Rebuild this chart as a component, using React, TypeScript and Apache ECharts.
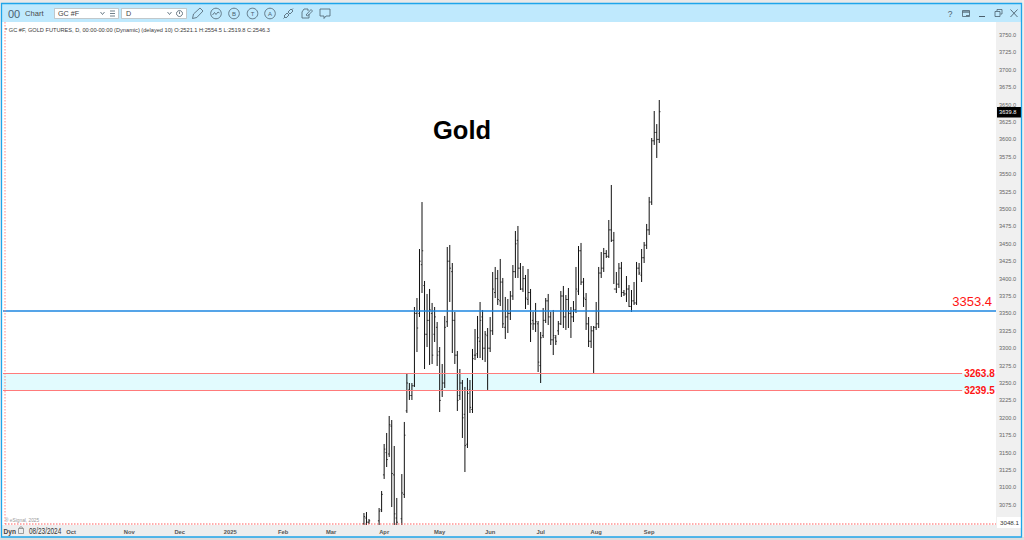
import React, { useEffect, useRef } from "react";
import * as echarts from "echarts";

// Trading-day index (days since 08/23/2024) of the first bar listed below
const firstBarIndex = 143;
const lastIndex = 393.4;

const monthLabels = ["Oct", "Nov", "Dec", "2025", "Feb", "Mar", "Apr", "May", "Jun", "Jul", "Aug", "Sep"];
const monthIndex = [27, 50, 70, 90, 111, 130, 151, 173, 193, 213, 235, 256];

const highs = [3063.2, 3064.6, 3054.6, null, null, null, 3070.4, 3094.8, 3162.4, 3178.2, 3202.6, 3196.8, 3159.5, 3084.8, null, 3119.2, 3194, 3263, 3250, 3250, 3359.2, 3372.1, 3442.5, 3510, 3396.6, 3377.9, 3385.1, 3365, 3359.2, 3337.6, 3301.7, 3277.3, 3346.3, 3445.4, 3448.3, 3422.4, 3352, 3296, 3270.1, 3254.3, 3244.3, 3257.2, 3254.3, 3298.9, 3327.6, 3346.3, 3366.4, 3354.9, 3324.7, 3329, 3344.8, 3409.5, 3416.7, 3412.4, 3428.2, 3400.9, 3373.6, 3370.7, 3382.2, 3419.5, 3468.4, 3475.6, 3422.4, 3418.1, 3405.2, 3413.8, 3385.1, 3352, 3365, 3339.1, 3323.3, 3357.8, 3372.1, 3377.9, 3352, 3354.9, 3319, 3339.1, 3382.2, 3389.4, 3376.4, 3386.5, 3359.2, 3367.8, 3416.7, 3446.8, 3451.2, 3400.9, 3379.3, 3344.8, 3331.9, 3331.9, 3366.4, 3416.7, 3438.2, 3444, 3441, 3484.2, 3534.5, 3467, 3409.5, 3422.4, 3423.9, 3383.6, 3403.7, 3390.8, 3383.6, 3395.1, 3423.9, 3422.4, 3442.5, 3452.6, 3478.5, 3517.3, 3602, 3640.8, 3622, 3656.6];
const lows = [3046, 3046, 3047.4, null, null, null, 3046, 3064.6, 3112.1, 3129.3, 3143.7, 3071.8, 3046, 3046, null, 3046, 3084.8, 3207, 3225.6, 3225.6, 3244.3, 3294.5, 3344.8, 3379.3, 3270.1, 3301.7, 3275.9, 3277.3, 3308.9, 3274.4, 3208.3, 3229.9, 3242.8, 3330.5, 3366.4, 3293.1, 3277.3, 3209.8, 3225.6, 3171, 3122.1, 3156.6, 3206.9, 3206.9, 3283, 3285.9, 3285.9, 3283, 3280.2, 3240, 3294.5, 3319, 3372.1, 3362.1, 3360.6, 3329, 3313.2, 3321.8, 3340.5, 3369.3, 3400.9, 3400.9, 3383.6, 3380.8, 3356.3, 3362.1, 3308.9, 3326.2, 3323.3, 3265.8, 3250, 3314.7, 3336.2, 3333.3, 3304.6, 3290.2, 3304.6, 3319, 3333.3, 3329, 3326.2, 3329, 3314.7, 3337.6, 3350.6, 3376.4, 3390.8, 3359.2, 3326.2, 3301.7, 3300.3, 3264.4, 3326.2, 3329, 3400.9, 3409.5, 3429.6, 3429.6, 3452.6, 3392.2, 3379.3, 3386.5, 3373.6, 3375, 3366.4, 3359.2, 3352, 3362.1, 3362.1, 3405.2, 3395.1, 3422.4, 3442.5, 3462.6, 3505.8, 3592, 3573.3, 3594.8];
const opens = [3048, 3056, 3050, null, null, null, 3052, 3068, 3118, 3150, 3148, 3188, 3118, 3056, null, 3055, 3090, 3210, 3240, 3232, 3246, 3350, 3350, 3420, 3390, 3320, 3340, 3350, 3320, 3330, 3295, 3240, 3250, 3338, 3425, 3410, 3340, 3290, 3232, 3250, 3205, 3162, 3240, 3212, 3290, 3292, 3310, 3345, 3300, 3318, 3300, 3325, 3380, 3400, 3368, 3395, 3330, 3345, 3350, 3375, 3410, 3455, 3415, 3385, 3400, 3370, 3380, 3340, 3335, 3335, 3275, 3318, 3340, 3368, 3345, 3312, 3315, 3325, 3335, 3375, 3345, 3370, 3350, 3345, 3355, 3382, 3440, 3395, 3370, 3335, 3310, 3325, 3330, 3335, 3408, 3415, 3436, 3432, 3470, 3455, 3385, 3392, 3415, 3380, 3378, 3385, 3360, 3368, 3365, 3415, 3405, 3430, 3448, 3470, 3510, 3598, 3610, 3600];
const closes = [3058, 3050, 3052, null, null, null, 3066, 3090, 3155, 3140, 3190, 3120, 3062, 3050, null, 3092, 3175, 3250, 3232, 3246, 3350, 3329, 3425, 3440, 3320, 3340, 3355, 3290, 3345, 3290, 3225, 3250, 3330, 3425, 3415, 3340, 3290, 3225, 3250, 3200, 3160, 3235, 3215, 3285, 3290, 3315, 3340, 3300, 3320, 3300, 3325, 3385, 3400, 3370, 3395, 3335, 3345, 3350, 3375, 3410, 3450, 3415, 3385, 3400, 3372, 3380, 3335, 3335, 3338, 3280, 3315, 3340, 3368, 3345, 3312, 3318, 3310, 3335, 3375, 3345, 3370, 3350, 3345, 3355, 3385, 3440, 3395, 3372, 3335, 3310, 3325, 3330, 3335, 3408, 3415, 3436, 3432, 3470, 3455, 3385, 3392, 3415, 3380, 3378, 3385, 3360, 3368, 3365, 3415, 3408, 3430, 3448, 3470, 3510, 3598, 3610, 3600, 3639.8];

const resistance = 3353.4;
const zoneTop = 3263.8;
const zoneBottom = 3239.5;
const lastPrice = "3639.8";
const axisLow = "3048.1";
const infoLine = "* GC #F, GOLD FUTURES, D, 00:00-00:00 (Dynamic) (delayed 10) O:2521.1 H:2554.5 L:2519.8 C:2546.3";
const FONT = "'Liberation Sans', Arial, sans-serif";

const barData = highs
  .map((h, i) => [firstBarIndex + i, h, lows[i], opens[i], closes[i]])
  .filter((d) => d[1] !== null);

const ICON = "#4b5f6d";
const t = (text: string, x: number, y: number, fontSize: number, fill: string, extra: any = {}, scaleX = 1) => ({
  type: "text", z: 80, x, y, scaleX, silent: true,
  style: { text, fontSize, fill, fontFamily: FONT, textVerticalAlign: "middle", ...extra },
});
const ln = (x1: number, y1: number, x2: number, y2: number, stroke = ICON, lineWidth = 0.8) => ({
  type: "line", z: 80, silent: true, shape: { x1, y1, x2, y2 }, style: { stroke, lineWidth },
});
const pl = (points: number[][], stroke = ICON, lineWidth = 0.8) => ({
  type: "polyline", z: 80, silent: true, shape: { points },
  style: { stroke, lineWidth },
});
const circ = (cx: number, cy: number, r: number, stroke = ICON) => ({
  type: "circle", z: 80, silent: true, shape: { cx, cy, r }, style: { stroke, lineWidth: 0.8, fill: "none" },
});
const box = (x: number, y: number, width: number, height: number, fill: string, z: number, stroke?: string, lineWidth = 1) => ({
  type: "rect", z, silent: true, shape: { x, y, width, height },
  style: { fill, stroke: stroke || "none", lineWidth },
});

const chrome: any[] = [
  // outside and panels
  box(996, 22, 25, 503, "#f0f0f0", -1),
  box(0, 525, 1022, 12, "#eeeeee", 3),
  box(0, 0, 1024, 4, "#e9e9e9", 50),
  box(0, 4, 2, 536, "#eeeeee", 50),
  box(1022, 0, 2, 540, "#eeeeee", 50),
  box(0, 537, 1024, 3, "#dedede", 50),
  box(2, 4, 1020, 18, "#bfe9fd", 50),
  box(1.5, 3.5, 1020, 533.5, "none", 60, "#1ea5ea", 1.3),
  // dashed frame of the plot
  { type: "line", z: 6, silent: true, shape: { x1: 5, y1: 22, x2: 5, y2: 524 }, style: { stroke: "#ff7a7a", lineWidth: 0.9, lineDash: [1.5, 1.5] } },
  { type: "line", z: 6, silent: true, shape: { x1: 5, y1: 524, x2: 996, y2: 524 }, style: { stroke: "#ff5a5a", lineWidth: 1, lineDash: [1.5, 1.5] } },
  // toolbar, left
  t("00", 8, 13.5, 11, "#4b6272"),
  t("Chart", 25, 13.5, 7.6, "#4a4a4a"),
  box(54.5, 8.5, 64, 10, "#ffffff", 70, "#b5b5b5", 0.7),
  box(121.5, 8.5, 65, 10, "#ffffff", 70, "#b5b5b5", 0.7),
  t("GC #F", 58, 13.7, 7.2, "#444"),
  t("D", 126, 13.7, 7.2, "#444"),
  pl([[100.5, 12], [102.5, 14.5], [104.5, 12]]),
  ln(110, 11, 115, 11), ln(110, 13.5, 115, 13.5), ln(110, 16, 115, 16),
  pl([[167.5, 12], [169.5, 14.5], [171.5, 12]]),
  circ(179.5, 13.5, 3), ln(179.5, 11.5, 179.5, 14),
  // pencil
  pl([[192.5, 18.5], [193.5, 14], [200, 8], [203, 11], [196.8, 17.5], [192.5, 18.5]]),
  // wave
  circ(216, 13.5, 5.3), pl([[212.5, 15], [214.5, 12.5], [216, 14.5], [218, 12], [219.5, 13]]),
  circ(234, 13.5, 5.3), t("B", 234, 13.8, 6, ICON, { textAlign: "center" }),
  circ(252.5, 13.5, 5.3), t("T", 252.5, 13.8, 6, ICON, { textAlign: "center" }),
  circ(270, 13.5, 5.3), t("A", 270, 13.8, 6, ICON, { textAlign: "center" }),
  // link
  pl([[284, 16], [287, 13], [289, 15], [286, 18], [284, 16]]),
  pl([[288, 12], [291, 9], [293, 11], [290, 14], [288, 12]]),
  ln(283.5, 18.5, 285, 17), ln(291.5, 10, 293, 8.5),
  // note
  pl([[302, 12], [304, 9], [308, 9], [308, 11]]),
  pl([[302, 12], [302, 18], [309, 18], [309, 14]]),
  pl([[306, 15], [311, 9.5], [312.5, 11], [307.5, 16], [306, 15]]),
  // speech
  pl([[320, 9], [330, 9], [330, 16], [326, 16], [324, 18.5], [324, 16], [320, 16], [320, 9]]),
  // toolbar, right
  t("?", 950, 13.5, 8.5, "#4b5f6d", { textAlign: "center" }),
  box(962.5, 10.5, 7, 6, "none", 80, ICON, 0.8),
  ln(962.5, 12, 969.5, 12, ICON, 1.2), ln(966, 15.5, 969, 15.5),
  ln(979, 16.5, 985, 16.5, ICON, 1),
  box(995, 11.5, 5, 5, "none", 80, ICON, 0.8),
  pl([[997, 11], [997, 9.5], [1002, 9.5], [1002, 14], [1000.5, 14]]),
  ln(1010.5, 9.5, 1017.5, 17, ICON, 0.9), ln(1017.5, 9.5, 1010.5, 17, ICON, 0.9),
  // info lines
  t(infoLine, 5, 29.8, 5.65, "#3a3a3a"),
  t("® eSignal, 2025", 5, 520.5, 4.8, "#999999"),
  // Title
  { type: "text", z: 30, silent: true, x: 462, y: 130, style: { text: "Gold", fontSize: 25.5, fontWeight: "bold", fill: "#000", fontFamily: FONT, textAlign: "center", textVerticalAlign: "middle" } },
  // bottom bar
  t("Dyn", 3.5, 531, 6.6, "#444", { fontWeight: "bold" }),
  box(18.5, 528.5, 5, 5, "none", 80, "#777", 0.7),
  { type: "arc", z: 80, silent: true, shape: { cx: 21, cy: 528.5, r: 1.7, startAngle: Math.PI, endAngle: 0 }, style: { stroke: "#777", lineWidth: 0.7, fill: "none" } },
  t("08/23/2024", 29, 531.3, 8.5, "#333", {}, 0.76),
  // price tags
  box(997, 107, 24, 10.5, "#000000", 40),
  { ...t(lastPrice, 999, 112.4, 5.7, "#ffffff"), z: 41 },
  box(997, 517, 24, 11, "#ffffff", 40),
  { ...t(axisLow, 1000, 522.5, 6.2, "#333"), z: 41 },
];

const renderBar = (_: any, api: any) => {
  const x = api.value(0);
  const [cx, yHigh] = api.coord([x, api.value(1)]);
  const [, yLow] = api.coord([x, api.value(2)]);
  const [, yOpen] = api.coord([x, api.value(3)]);
  const [, yClose] = api.coord([x, api.value(4)]);
  const style = { stroke: "#111", lineWidth: 1, fill: "none" };
  const thin = { stroke: "#111", lineWidth: 0.8, fill: "none" };
  return {
    type: "group",
    children: [
      { type: "line", shape: { x1: cx, y1: yHigh, x2: cx, y2: yLow }, style },
      { type: "line", shape: { x1: cx - 1.2, y1: yOpen, x2: cx, y2: yOpen }, style: thin },
      { type: "line", shape: { x1: cx, y1: yClose, x2: cx + 1.2, y2: yClose }, style: thin },
    ],
  };
};

const sideLabel = { show: true, position: "end", distance: 2, color: "#ff1414", fontFamily: FONT, fontSize: 10, fontWeight: "bold" };
const zoneEndIndex = 380;
const zoneLine = { color: "#ff7b7b", width: 1, type: "solid" };

const option: any = {
  animation: false,
  backgroundColor: "#ffffff",
  grid: { left: 3, width: 993, top: 17.6, height: 522, containLabel: false },
  xAxis: {
    type: "value", min: 0, max: lastIndex, z: 5,
    axisLine: { show: false }, axisTick: { show: false }, splitLine: { show: false },
    axisLabel: {
      inside: true, margin: 5, fontSize: 5.8, color: "#555", fontWeight: "bold", fontFamily: FONT,
      customValues: monthIndex,
      formatter: (v: number) => monthLabels[monthIndex.indexOf(v)] ?? "",
    },
  },
  yAxis: {
    type: "value", position: "right", min: 3025, max: 3775, interval: 25,
    axisLine: { show: false }, axisTick: { show: false }, splitLine: { show: false },
    axisLabel: {
      margin: 3, fontSize: 5.6, color: "#666", fontFamily: FONT,
      formatter: (v: number) => (v < 3075 || v > 3750 ? "" : v.toFixed(1)),
    },
  },
  graphic: { elements: chrome },
  series: [
    {
      type: "custom", data: barData, renderItem: renderBar, clip: true, silent: true,
      encode: { x: 0, y: [1, 2, 3, 4] }, z: 2,
      markArea: {
        silent: true, z: 1, itemStyle: { color: "#e2fbfe" },
        data: [[{ yAxis: zoneTop }, { yAxis: zoneBottom }]],
      },
      markLine: {
        silent: true, symbol: "none", z: 3,
        data: [
          { yAxis: resistance, lineStyle: { color: "#1c86e0", width: 1.6, type: "solid" },
            label: { ...sideLabel, position: "insideEndTop", distance: 3, fontSize: 13, fontWeight: "normal", padding: [0, 1, 0, 0], formatter: String(resistance) } },
          [{ coord: [0, zoneTop], lineStyle: zoneLine, label: { ...sideLabel, formatter: String(zoneTop) } }, { coord: [zoneEndIndex, zoneTop] }],
          [{ coord: [0, zoneBottom], lineStyle: zoneLine, label: { ...sideLabel, formatter: String(zoneBottom) } }, { coord: [zoneEndIndex, zoneBottom] }],
        ],
      },
    },
  ],
};

export default function App() {
  const ref = useRef<HTMLDivElement>(null);
  useEffect(() => {
    document.body.style.margin = "0";
    const chart = echarts.init(ref.current!, undefined, { renderer: "svg" });
    chart.setOption(option);
    return () => chart.dispose();
  }, []);
  return <div ref={ref} style={{ position: "fixed", left: 0, top: 0, width: 1024, height: 540 }} />;
}
